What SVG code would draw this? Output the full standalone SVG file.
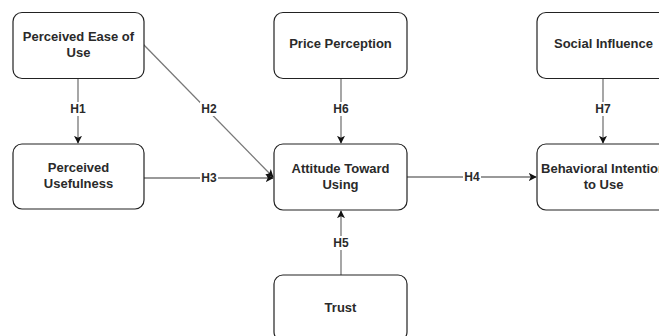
<svg xmlns="http://www.w3.org/2000/svg" width="659" height="336" viewBox="0 0 659 336">
<defs>
<marker id="arr" viewBox="0 0 10 10" refX="9" refY="5" markerWidth="8" markerHeight="8" markerUnits="userSpaceOnUse" orient="auto">
<path d="M0,0 L10,5 L0,10 L2.5,5 Z" fill="#111"/>
</marker>
<style>
.box{fill:#fff;stroke:#222;stroke-width:1.2}
.t{font-family:"Liberation Sans",Arial,sans-serif;font-size:13px;font-weight:bold;fill:#2a2a2a;text-anchor:middle}
.h{font-family:"Liberation Sans",Arial,sans-serif;font-size:12px;font-weight:bold;fill:#2a2a2a;text-anchor:middle}
.c{stroke:#777;stroke-width:1.3;fill:none;marker-end:url(#arr)}
.lb{fill:#fff}
</style>
</defs>
<rect width="659" height="336" fill="#fff"/>
<g id="connectors">
<line class="c" x1="78" y1="78" x2="78" y2="143"/>
<line class="c" x1="143" y1="44" x2="273" y2="177"/>
<line class="c" x1="144" y1="178" x2="273" y2="178"/>
<line class="c" x1="407" y1="177" x2="536" y2="177"/>
<line class="c" x1="341" y1="275" x2="341" y2="211"/>
<line class="c" x1="341" y1="78" x2="341" y2="143"/>
<line class="c" x1="603" y1="78" x2="603" y2="143"/>
<rect class="lb" x="69" y="102" width="18" height="14"/>
<text class="h" x="78" y="113">H1</text>
<rect class="lb" x="200" y="102" width="18" height="14"/>
<text class="h" x="209" y="113">H2</text>
<rect class="lb" x="200" y="171" width="18" height="14"/>
<text class="h" x="209" y="182">H3</text>
<rect class="lb" x="463" y="170" width="18" height="14"/>
<text class="h" x="472" y="181">H4</text>
<rect class="lb" x="332" y="236" width="18" height="14"/>
<text class="h" x="341" y="247">H5</text>
<rect class="lb" x="332" y="102" width="18" height="14"/>
<text class="h" x="341" y="113">H6</text>
<rect class="lb" x="594" y="102" width="18" height="14"/>
<text class="h" x="603" y="113">H7</text>
</g>
<g id="peou">
<rect class="box" x="13" y="12.5" width="131" height="66" rx="9"/>
<text class="t" x="78.5" y="41">Perceived Ease of</text>
<text class="t" x="78.5" y="57">Use</text>
</g>
<g id="pu">
<rect class="box" x="13" y="144" width="131" height="65" rx="9"/>
<text class="t" x="78.5" y="172">Perceived</text>
<text class="t" x="78.5" y="188">Usefulness</text>
</g>
<g id="price">
<rect class="box" x="274" y="12.5" width="133" height="66" rx="9"/>
<text class="t" x="340.5" y="48">Price Perception</text>
</g>
<g id="social">
<rect class="box" x="537" y="12.5" width="133" height="66" rx="9"/>
<text class="t" x="603.5" y="48">Social Influence</text>
</g>
<g id="attitude">
<rect class="box" x="274" y="144" width="133" height="66" rx="9"/>
<text class="t" x="340.5" y="173">Attitude Toward</text>
<text class="t" x="340.5" y="189">Using</text>
</g>
<g id="bi">
<rect class="box" x="537" y="144" width="133" height="66" rx="9"/>
<text class="t" x="603.5" y="173">Behavioral Intention</text>
<text class="t" x="603.5" y="189">to Use</text>
</g>
<g id="trust">
<rect class="box" x="274" y="275" width="133" height="66" rx="9"/>
<text class="t" x="340.5" y="312">Trust</text>
</g>
</svg>
